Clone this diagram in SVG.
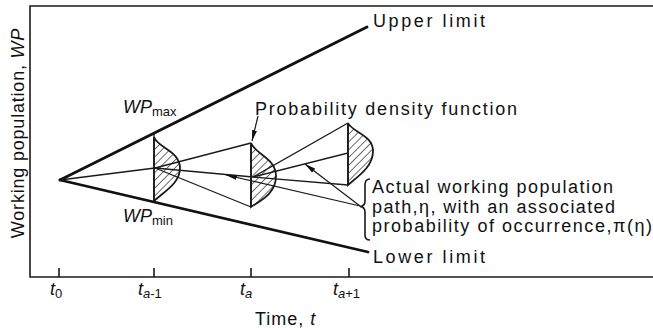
<svg xmlns="http://www.w3.org/2000/svg" width="653" height="332" viewBox="0 0 653 332">
<defs>
<style>
.ax{stroke:#1a1a1a;stroke-width:1.6;fill:none}
.lim{stroke:#111;stroke-width:2.8;fill:none;stroke-linecap:round}
.ln{stroke:#1a1a1a;stroke-width:1.3;fill:none}
.pdf{fill:url(#hatch);stroke:#1a1a1a;stroke-width:1.8}
.ptr{stroke:#1a1a1a;stroke-width:1.2;fill:none;marker-end:url(#arr)}
text{font-family:"Liberation Sans","DejaVu Sans",sans-serif;fill:#111;font-size:18px}
.it{font-style:italic}
.sub{font-size:13px}
</style>
<pattern id="hatch" width="5.5" height="5.5" patternUnits="userSpaceOnUse" patternTransform="rotate(45)">
<line x1="0" y1="0" x2="0" y2="5.5" stroke="#222" stroke-width="1.3"/>
</pattern>
<marker id="arr" markerUnits="userSpaceOnUse" markerWidth="12" markerHeight="7" refX="11" refY="3.5" orient="auto">
<path d="M0,1 L11,3.5 L0,6 Z" fill="#111"/>
</marker>
</defs>
<rect width="653" height="332" fill="#fff"/>

<g id="axes">
<path class="ax" d="M653,6 H30 V277 H653"/>
<path class="ax" d="M59,268 V277 M154,268 V277 M251,268 V277 M349,268 V277"/>
<text x="50" y="295" class="it">t<tspan class="sub" dy="3" font-style="normal">0</tspan></text>
<text x="138" y="295" class="it">t<tspan class="sub" dy="3">a</tspan><tspan class="sub" font-style="normal">-1</tspan></text>
<text x="240" y="295" class="it">t<tspan class="sub" dy="3">a</tspan></text>
<text x="333" y="295" class="it">t<tspan class="sub" dy="3">a</tspan><tspan class="sub" font-style="normal">+1</tspan></text>
<text x="255" y="325" letter-spacing="1">Time, <tspan class="it">t</tspan></text>
<text transform="translate(24,133) rotate(-90)" text-anchor="middle" letter-spacing="0.8">Working population, <tspan class="it">WP</tspan></text>
</g>

<g id="limits">
<line class="lim" x1="60" y1="180" x2="367" y2="27"/>
<line class="lim" x1="60" y1="180" x2="368" y2="252"/>
<text x="373" y="27" textLength="112" lengthAdjust="spacing">Upper limit</text>
<text x="373" y="263" textLength="112" lengthAdjust="spacing">Lower limit</text>
<text x="123" y="113" class="it">WP<tspan class="sub" dy="3" font-style="normal">max</tspan></text>
<text x="123" y="222" class="it">WP<tspan class="sub" dy="3" font-style="normal">min</tspan></text>
</g>

<g id="pdf-a-1">
<path class="pdf" d="M154,137 C158,148 180,151 180,168 C180,183 165,191 154,201 Z"/>
<line class="ln" x1="154" y1="134" x2="154" y2="202"/>
</g>
<g id="pdf-a">
<path class="pdf" d="M251,143 C255,154 276,158 276,176 C276,193 262,200 251,207 Z"/>
<line class="ln" x1="251" y1="143" x2="251" y2="207"/>
</g>
<g id="pdf-a+1">
<path class="pdf" d="M348,123 C352,132 373,135 373,151 C373,166 360,175 348,185 Z"/>
<line class="ln" x1="348" y1="123" x2="348" y2="185"/>
</g>

<g id="paths">
<line class="ln" x1="60" y1="180" x2="155" y2="168"/>
<line class="ln" x1="155" y1="168" x2="251" y2="143"/>
<line class="ln" x1="155" y1="168" x2="253" y2="177"/>
<line class="ln" x1="155" y1="168" x2="251" y2="207"/>
<line class="ln" x1="253" y1="177" x2="348" y2="123"/>
<line class="ln" x1="253" y1="177" x2="348" y2="153"/>
<line class="ln" x1="253" y1="177" x2="348" y2="185"/>
</g>

<g id="annotations">
<line class="ptr" x1="258" y1="116" x2="252" y2="141"/>
<text x="255" y="115" textLength="262" lengthAdjust="spacing">Probability density function</text>
<line class="ptr" x1="360" y1="206" x2="226" y2="175"/>
<line class="ptr" x1="360" y1="206" x2="305" y2="164"/>
<path class="ax" stroke-width="1.4" d="M370,179 Q365,179 365,185 L365,201 Q365,206 360,206.5 Q365,207 365,212 L365,235 Q365,240 370,240"/>
<text x="372" y="193" textLength="241" lengthAdjust="spacing">Actual working population</text>
<text x="372" y="213" textLength="243" lengthAdjust="spacing">path,η, with an associated</text>
<text x="372" y="232" textLength="280" lengthAdjust="spacing">probability of occurrence,π(η)</text>
</g>
</svg>
